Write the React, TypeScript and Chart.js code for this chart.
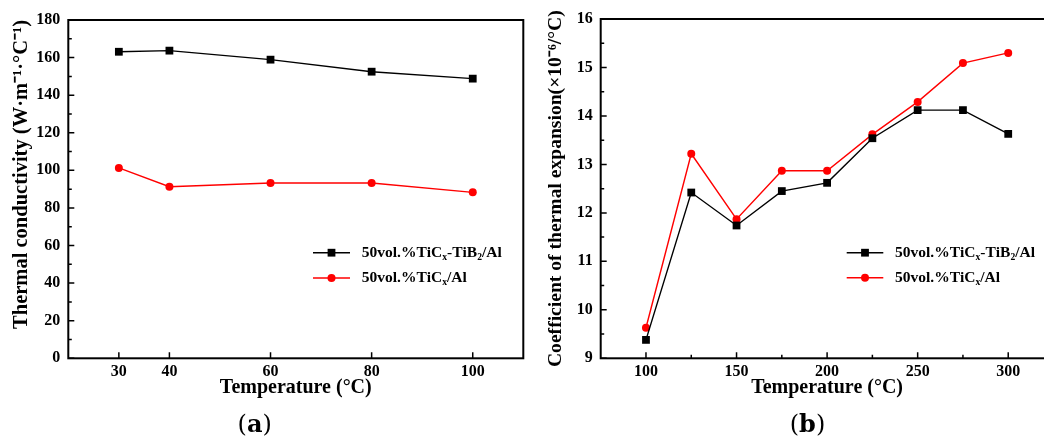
import React, { useEffect, useRef } from "react";
import { Chart, registerables } from "chart.js";
Chart.register(...registerables);

// ---------- data ----------
const seriesNames = ["50vol.%TiCₓ-TiB₂/Al", "50vol.%TiCₓ/Al"];

const tempA = [30, 40, 60, 80, 100];
const condTiCxTiB2 = [163.1, 163.7, 158.9, 152.5, 148.8];
const condTiCx = [101.3, 91.3, 93.3, 93.3, 88.3];

const tempB = [100, 125, 150, 175, 200, 225, 250, 275, 300];
const cteTiCxTiB2 = [9.38, 12.42, 11.74, 12.45, 12.62, 13.54, 14.12, 14.12, 13.63];
const cteTiCx = [9.63, 13.22, 11.87, 12.87, 12.87, 13.62, 14.29, 15.09, 15.3];

const xTicksA = [30, 40, 60, 80, 100];
const yTicksA = [0, 20, 40, 60, 80, 100, 120, 140, 160, 180];
const yMinorA = [10, 30, 50, 70, 90, 110, 130, 150, 170];

const xTicksB = [100, 150, 200, 250, 300];
const xMinorB = [125, 175, 225, 275];
const yTicksB = [9, 10, 11, 12, 13, 14, 15, 16];
const yMinorB = [9.5, 10.5, 11.5, 12.5, 13.5, 14.5, 15.5];

const titleA_x = "Temperature (°C)";
const titleA_y = "Thermal conductivity (W·m⁻¹·°C⁻¹)";
const titleB_x = "Temperature (°C)";
const titleB_y = "Coefficient of thermal expansion(×10⁻⁶/°C)";

const SERIF = "'Liberation Serif', 'Times New Roman', serif";
const BLACK = "#000000";
const RED = "#ff0000";

const SUB: Record<string, string> = { "ₓ": "x", "₂": "2" };

function drawRich(ctx: CanvasRenderingContext2D, text: string, x: number, y: number, size: number) {
  let cx = x;
  ctx.textAlign = "left";
  ctx.textBaseline = "middle";
  for (const ch of Array.from(text)) {
    const sub = SUB[ch];
    if (sub) {
      ctx.font = `bold ${size * 0.62}px ${SERIF}`;
      ctx.fillText(sub, cx, y + size * 0.28);
      cx += ctx.measureText(sub).width;
    } else {
      ctx.font = `bold ${size}px ${SERIF}`;
      ctx.fillText(ch, cx, y);
      cx += ctx.measureText(ch).width;
    }
  }
}

type Cfg = {
  xMajor: number[];
  xMinor: number[];
  yMajor: number[];
  yMinor: number[];
  legend: { x: number; y: number; gap: number; len: number; textX: number; size: number };
};

function makeFramePlugin(cfg: Cfg) {
  return {
    id: "frameTicks",
    afterDatasetsDraw(chart: any) {
      const { ctx, chartArea: a, scales } = chart;
      const sx = scales.x;
      const sy = scales.y;
      ctx.save();
      ctx.strokeStyle = BLACK;
      ctx.lineWidth = 1.5;
      ctx.beginPath();
      const xt = (vals: number[], len: number) => {
        for (const v of vals) {
          const p = sx.getPixelForValue(v);
          ctx.moveTo(p, a.bottom);
          ctx.lineTo(p, a.bottom - len);
        }
      };
      const yt = (vals: number[], len: number) => {
        for (const v of vals) {
          const p = sy.getPixelForValue(v);
          ctx.moveTo(a.left, p);
          ctx.lineTo(a.left + len, p);
        }
      };
      xt(cfg.xMajor, 6);
      xt(cfg.xMinor, 3.5);
      yt(cfg.yMajor, 6);
      yt(cfg.yMinor, 3.5);
      ctx.stroke();
      ctx.lineWidth = 2;
      ctx.strokeRect(a.left, a.top, a.right - a.left, a.bottom - a.top);

      // legend
      const L = cfg.legend;
      chart.data.datasets.forEach((ds: any, i: number) => {
        const y = L.y + i * L.gap;
        ctx.strokeStyle = ds.borderColor;
        ctx.lineWidth = ds.borderWidth;
        ctx.beginPath();
        ctx.moveTo(L.x, y);
        ctx.lineTo(L.x + L.len, y);
        ctx.stroke();
        ctx.fillStyle = ds.pointBackgroundColor;
        const cx = L.x + L.len / 2;
        if (ds.pointStyle === "rect") {
          const s = ds.pointRadius * Math.SQRT1_2;
          ctx.fillRect(cx - s, y - s, 2 * s, 2 * s);
        } else {
          ctx.beginPath();
          ctx.arc(cx, y, ds.pointRadius, 0, Math.PI * 2);
          ctx.fill();
        }
        ctx.fillStyle = BLACK;
        drawRich(ctx, ds.label, L.textX, y, L.size);
      });
      ctx.restore();
    },
  };
}

function dataset(label: string, xs: number[], ys: number[], color: string, style: string, r: number) {
  return {
    label,
    data: xs.map((x, i) => ({ x, y: ys[i] })),
    borderColor: color,
    backgroundColor: color,
    pointBackgroundColor: color,
    pointBorderColor: color,
    pointStyle: style,
    pointRadius: r,
    pointBorderWidth: 0,
    borderWidth: 1.4,
    tension: 0,
    clip: false,
  };
}

const tickFont = { family: SERIF, size: 16, weight: "bold" as const };
const titleFont = { family: SERIF, size: 20, weight: "bold" as const };

function buildOptions(o: {
  width: number;
  right: number;
  top: number;
  bottom: number;
  left: number;
  xmin: number;
  xmax: number;
  ymin: number;
  ymax: number;
  xTicks: number[];
  yTicks: number[];
  xTitle: string;
  yTitle: string;
  yTitleSize: number;
  yTitlePad: number;
  yAlign: "center" | "end";
}) {
  return {
    animation: false,
    responsive: false,
    devicePixelRatio: 1,
    events: [],
    layout: { padding: { top: o.top, right: o.width - o.right, bottom: 0, left: 0 } },
    plugins: { legend: { display: false }, tooltip: { enabled: false } },
    scales: {
      x: {
        type: "linear",
        min: o.xmin,
        max: o.xmax,
        afterBuildTicks: (s: any) => {
          s.ticks = o.xTicks.map((v) => ({ value: v }));
        },
        afterFit: (s: any) => {
          s.height = 444 - o.bottom;
        },
        grid: { display: false, drawTicks: false },
        border: { display: false },
        ticks: { padding: 4, font: tickFont, color: BLACK, maxRotation: 0, autoSkip: false },
        title: {
          display: true,
          text: o.xTitle,
          font: titleFont,
          color: BLACK,
          padding: { top: 0, bottom: 44 },
        },
      },
      y: {
        type: "linear",
        min: o.ymin,
        max: o.ymax,
        afterBuildTicks: (s: any) => {
          s.ticks = o.yTicks.map((v) => ({ value: v }));
        },
        afterFit: (s: any) => {
          s.width = o.left;
        },
        grid: { display: false, drawTicks: false },
        border: { display: false },
        ticks: { padding: 8, font: tickFont, color: BLACK, autoSkip: false },
        title: {
          display: true,
          text: o.yTitle,
          font: { family: SERIF, size: o.yTitleSize, weight: "bold" },
          color: BLACK,
          align: o.yAlign,
          padding: { top: o.yTitlePad, bottom: 0 },
        },
      },
    },
  } as any;
}

export default function App() {
  const refA = useRef<HTMLCanvasElement>(null);
  const refB = useRef<HTMLCanvasElement>(null);

  useEffect(() => {
    const chartA = new Chart(refA.current!, {
      type: "line",
      data: {
        datasets: [
          dataset(seriesNames[0], tempA, condTiCxTiB2, BLACK, "rect", 5.5),
          dataset(seriesNames[1], tempA, condTiCx, RED, "circle", 4),
        ],
      },
      options: buildOptions({
        width: 530,
        right: 523.3,
        top: 20,
        bottom: 358.3,
        left: 68.3,
        xmin: 20,
        xmax: 110,
        ymin: 0,
        ymax: 180,
        xTicks: xTicksA,
        yTicks: yTicksA,
        xTitle: titleA_x,
        yTitle: titleA_y,
        yTitleSize: 20.5,
        yTitlePad: 9.7,
        yAlign: "end",
      }),
      plugins: [
        makeFramePlugin({
          xMajor: xTicksA,
          xMinor: [],
          yMajor: yTicksA,
          yMinor: yMinorA,
          legend: { x: 313, y: 252.7, gap: 25.3, len: 37, textX: 361.7, size: 15.5 },
        }),
      ],
    } as any);

    const chartB = new Chart(refB.current!, {
      type: "line",
      data: {
        datasets: [
          dataset(seriesNames[0], tempB, cteTiCxTiB2, BLACK, "rect", 5.5),
          dataset(seriesNames[1], tempB, cteTiCx, RED, "circle", 4),
        ],
      },
      options: buildOptions({
        width: 560,
        right: 523.5,
        top: 19,
        bottom: 358.3,
        left: 70.7,
        xmin: 75,
        xmax: 325,
        ymin: 9,
        ymax: 16,
        xTicks: xTicksB,
        yTicks: yTicksB,
        xTitle: titleB_x,
        yTitle: titleB_y,
        yTitleSize: 19.6,
        yTitlePad: 14,
        yAlign: "center",
      }),
      plugins: [
        makeFramePlugin({
          xMajor: xTicksB,
          xMinor: xMinorB,
          yMajor: yTicksB,
          yMinor: yMinorB,
          legend: { x: 316.7, y: 252.7, gap: 25, len: 36.6, textX: 365, size: 15.5 },
        }),
      ],
    } as any);

    return () => {
      chartA.destroy();
      chartB.destroy();
    };
  }, []);

  const panelLabel: React.CSSProperties = {
    position: "absolute",
    top: 408,
    width: 100,
    textAlign: "center",
    fontFamily: "'DejaVu Serif', serif",
    fontSize: 24,
    lineHeight: "32px",
    color: "#000",
  };

  return (
    <div
      style={{
        position: "fixed",
        left: 0,
        top: 0,
        width: 1044,
        height: 444,
        overflow: "hidden",
        background: "#ffffff",
      }}
    >
      <div style={{ position: "absolute", left: 0, top: 0, width: 530, height: 444 }}>
        <canvas ref={refA} width={530} height={444} style={{ display: "block" }} />
      </div>
      <div style={{ position: "absolute", left: 530, top: 0, width: 560, height: 444 }}>
        <canvas ref={refB} width={560} height={444} style={{ display: "block" }} />
      </div>
      <div style={{ ...panelLabel, left: 204.7 }}>
        (<b>a</b>)
      </div>
      <div style={{ ...panelLabel, left: 757.5 }}>
        (<b>b</b>)
      </div>
    </div>
  );
}
